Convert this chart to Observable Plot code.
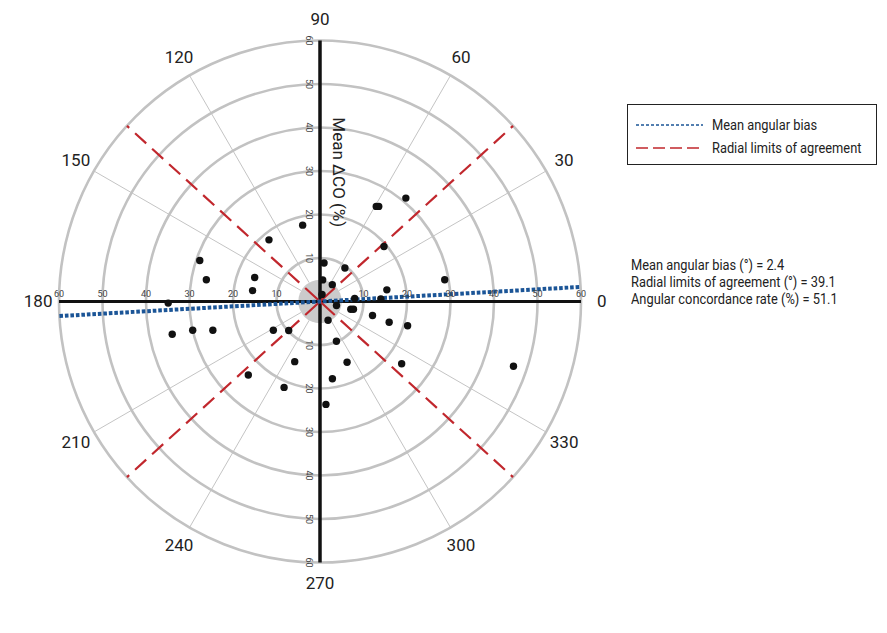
<!DOCTYPE html>
<html>
<head>
<meta charset="utf-8">
<script src="https://cdn.jsdelivr.net/npm/d3@7"></script>
<script src="https://cdn.jsdelivr.net/npm/@observablehq/plot@0.6"></script>
<style>
  html, body { margin: 0; padding: 0; background: #fff; }
  #wrap { position: relative; width: 887px; height: 633px; font-family: Roboto, "Liberation Sans", sans-serif; color: #222; }
  #legend { position: absolute; left: 627px; top: 104px; width: 250px; height: 61px; border: 1px solid #222; box-sizing: border-box; font-size: 13.8px; }
  .item { position: absolute; left: 8px; display: flex; align-items: center; height: 18px; white-space: nowrap; }
  .item svg { margin-right: 9px; }
  .item span { display: inline-block; transform: scaleX(0.93); transform-origin: left center; }
  #stats { position: absolute; left: 631px; top: 257px; font-size: 13.8px; line-height: 17px; white-space: nowrap; transform: scaleX(0.93); transform-origin: left top; }
</style>
</head>
<body>
<div id="wrap">
  <div id="chart"></div>
  <div id="legend"></div>
  <div id="stats"></div>
</div>
<script>
// ---- data ----
const pointAngles = [50.3, 59.4, 58.3, 102.8, 129.6, 40.7, 161.2, 84.0, 53.4, 169.2,
  159.8, 9.9, 82.9, 53.9, 170.8, 9.9, 74.0, 2.5, 4.9, 180.6,
  346.3, 345.9, 347.0, 345.0, 343.3, 344.5, 293.2, 192.5, 192.7, 195.0,
  211.6, 222.8, 292.4, 294.0, 322.7, 247.2, 225.7, 279.1, 247.3, 273.3, 341.5];
const pointRadii = [30.9, 25.4, 25.7, 18.0, 18.4, 19.4, 29.2, 8.9, 9.6, 26.6,
  16.0, 29.1, 5.0, 4.8, 15.7, 15.6, 1.7, 14.0, 8.0, 34.9,
  3.9, 7.3, 7.9, 12.5, 16.6, 20.9, 4.7, 34.8, 30.0, 25.5,
  12.6, 9.8, 9.9, 15.3, 23.6, 15.0, 23.6, 18.0, 21.4, 23.7, 46.9];
const ringValues = [10, 20, 30, 40, 50, 60];
const centerDisc = [5];
const spokeAngles = [30, 60, 120, 150, 210, 240, 300, 330];
const angleLabels = [0, 30, 60, 90, 120, 150, 180, 210, 240, 270, 300, 330];
const meanBiasAngle = [3.2];
const limitAngles = [42.3, 137.7, 222.3, 317.7];
const radialTitle = ["Mean \u0394CO (%)"];
const legendLabels = ["Mean angular bias", "Radial limits of agreement"];
const statLines = [
  "Mean angular bias (\u00b0) = 2.4",
  "Radial limits of agreement (\u00b0) = 39.1",
  "Angular concordance rate (%) = 51.1"
];

// ---- helpers ----
const RMAX = 60;
const rad = a => a * Math.PI / 180;
const px = (a, r) => r * Math.cos(rad(a));
const py = (a, r) => r * Math.sin(rad(a));
const points = pointAngles.map((a, i) => ({a, r: pointRadii[i]}));
const ticksBoth = ringValues.flatMap(v => [v, -v]);
const redDash = "20,8" + ",15,8".repeat(12);

const chart = Plot.plot({
  width: 887,
  height: 633,
  margin: 0,
  x: {domain: [-60, 60], range: [58.5, 580.5], axis: null},
  y: {domain: [-60, 60], range: [562, 40], axis: null},
  r: {type: "linear", domain: [0, 60], range: [0, 261]},
  style: {fontFamily: 'Roboto, "Liberation Sans", sans-serif', background: "#fff"},
  marks: [
    Plot.dot(centerDisc, {x: () => 0, y: () => 0, r: d => d, fill: "#cbcbcb", stroke: "none"}),
    Plot.link(spokeAngles, {x1: a => px(a, 5), y1: a => py(a, 5), x2: a => px(a, RMAX), y2: a => py(a, RMAX), stroke: "#c4c4c4", strokeWidth: 1}),
    Plot.dot(ringValues, {x: () => 0, y: () => 0, r: d => d, stroke: "#c2c2c2", strokeWidth: 2.6, fill: "none"}),
    Plot.link([0], {x1: -RMAX, y1: 0, x2: RMAX, y2: 0, stroke: "#111", strokeWidth: 3}),
    Plot.link([0], {x1: 0, y1: -RMAX, x2: 0, y2: RMAX, stroke: "#111", strokeWidth: 3.5}),
    Plot.link(limitAngles, {x1: () => 0, y1: () => 0, x2: a => px(a, RMAX), y2: a => py(a, RMAX), stroke: "#c1272d", strokeWidth: 2.2, strokeDasharray: redDash}),
    Plot.link(meanBiasAngle, {x1: a => px(a + 180, RMAX), y1: a => py(a + 180, RMAX), x2: a => px(a, RMAX), y2: a => py(a, RMAX), stroke: "#1b5597", strokeWidth: 4, strokeDasharray: "3.6,1.9"}),
    Plot.dot(points, {x: d => px(d.a, d.r), y: d => py(d.a, d.r), r: 3.7, fill: "#111", stroke: "none"}),
    // radial tick labels on horizontal axis
    Plot.text(ticksBoth, {x: d => d, y: () => 0, text: d => String(Math.abs(d)), dy: -7, fontSize: 9, fill: "#444"}),
    // radial tick labels on vertical axis
    Plot.text(ticksBoth, {x: () => 0, y: d => d, text: d => String(Math.abs(d)), dx: -11, rotate: 90, fontSize: 9, fill: "#444"}),
    // angle labels
    Plot.text(angleLabels, {x: a => px(a, 64.8), y: a => py(a, 64.8), text: d => String(d), fontSize: 17, fill: "#222"}),
    // radial axis title
    Plot.text(radialTitle, {x: () => 0, y: () => 29.7, text: d => d, dx: 18, rotate: 90, fontSize: 17, fill: "#222"})
  ]
});
document.getElementById("chart").appendChild(chart);

// legend
const legend = document.getElementById("legend");
const styles = [
  {stroke: "#1b5597", dash: "3,2", top: 11},
  {stroke: "#c1272d", dash: "12,5", top: 34}
];
legendLabels.forEach((lab, i) => {
  const s = styles[i];
  const div = document.createElement("div");
  div.className = "item";
  div.style.top = s.top + "px";
  div.innerHTML = `<svg width="67" height="6"><line x1="0" y1="3" x2="67" y2="3" stroke="${s.stroke}" stroke-width="1.3" stroke-dasharray="${s.dash}"/></svg><span>${lab}</span>`;
  legend.appendChild(div);
});

// stats
const stats = document.getElementById("stats");
statLines.forEach(t => {
  const d = document.createElement("div");
  d.textContent = t;
  stats.appendChild(d);
});
</script>
</body>
</html>
